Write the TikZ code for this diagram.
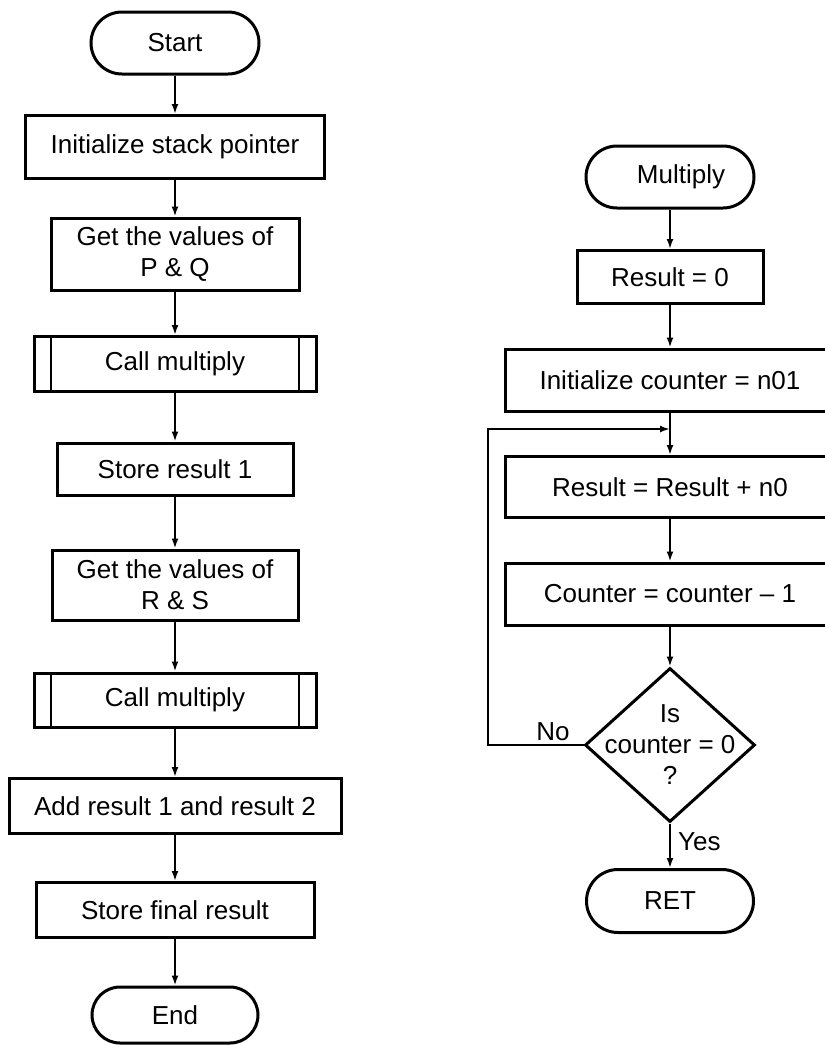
\documentclass[tikz,border=0pt]{standalone}
\usepackage{fontspec}
\setmainfont{Liberation Sans}
\usetikzlibrary{shapes.geometric,shapes.misc,arrows.meta}
\begin{document}
\begin{tikzpicture}[x=1pt,y=-1pt,
  base/.style={draw=black, line width=3pt, font=\fontsize{26}{31}\selectfont, align=center, inner sep=0pt},
  proc/.style={base, rectangle},
  term/.style={base, rounded rectangle, minimum width=168pt, minimum height=62pt},
  subr/.style={proc, path picture={\draw[line width=2.5pt]
      ([xshift=17pt]path picture bounding box.north west) -- ([xshift=17pt]path picture bounding box.south west)
      ([xshift=-17pt]path picture bounding box.north east) -- ([xshift=-17pt]path picture bounding box.south east);}},
  decision/.style={draw=black, line width=3pt, diamond, minimum width=170pt, minimum height=154pt, inner sep=0pt},
  arr/.style={line width=2pt, -{Latex[length=10pt,width=7pt]}},
  lbl/.style={font=\fontsize{26}{31}\selectfont, inner sep=0pt}
]
\clip (0,0) rectangle (825,1045);
\fill[white] (0,0) rectangle (825,1045);

% left flowchart
\node[term] (start) at (175,43) {Start};
\node[proc, minimum width=299pt, minimum height=63pt] (isp) at (175,147) {Initialize stack pointer};
\node[proc, minimum width=248pt, minimum height=72pt] (pq) at (175,254) {Get the values of\\P \& Q};
\node[subr, minimum width=282pt, minimum height=55pt] (c1) at (175,364) {Call multiply};
\node[proc, minimum width=236pt, minimum height=52pt] (sr1) at (175,469) {Store result 1};
\node[proc, minimum width=246pt, minimum height=70pt] (rs) at (175,585) {Get the values of\\R \& S};
\node[subr, minimum width=282pt, minimum height=54pt] (c2) at (175,700) {Call multiply};
\node[proc, minimum width=332pt, minimum height=55pt] (add) at (175,806) {Add result 1 and result 2};
\node[proc, minimum width=278pt, minimum height=55pt] (sfr) at (175,910) {Store final result};
\node[term, minimum width=166pt, minimum height=56pt] (end) at (175,1015) {End};

\draw[arr] (start) -- (isp);
\draw[arr] (isp) -- (pq);
\draw[arr] (pq) -- (c1);
\draw[arr] (c1) -- (sr1);
\draw[arr] (sr1) -- (rs);
\draw[arr] (rs) -- (c2);
\draw[arr] (c2) -- (add);
\draw[arr] (add) -- (sfr);
\draw[arr] (sfr) -- (end);

% right flowchart
\node[term] (mul) at (670,177) {\hspace*{22pt}Multiply};
\node[proc, minimum width=186pt, minimum height=53pt] (r0) at (670,277) {Result = 0};
\node[proc, minimum width=330pt, minimum height=62pt] (ic) at (670,380) {Initialize counter = n01};
\node[proc, minimum width=330pt, minimum height=61pt] (rr) at (670,487) {Result = Result + n0};
\node[proc, minimum width=330pt, minimum height=62pt] (cc) at (670,594) {Counter = counter -- 1};
\node[decision] (dec) at (670,745) {};
\node[lbl, align=center] (dect) at (dec.center) {Is\\counter = 0\\?};
\node[term, minimum width=167pt, minimum height=63pt] (ret) at (670,901) {RET};
\coordinate (lp) at (488,429);
\coordinate (jn) at (670,429);
\node[lbl] (no) at (553,732) {No};
\node[lbl, anchor=west] (yes) at (678,842) {Yes};

\draw[arr] (mul) -- (r0);
\draw[arr] (r0) -- (ic);
\draw[arr] (ic) -- (rr);
\draw[arr] (rr) -- (cc);
\draw[arr] (cc) -- (dec);
\draw[arr] (dec) -- (ret);
\draw[arr] (dec.west) -- (dec.west -| lp) -- (lp) -- (jn);
\end{tikzpicture}
\end{document}
